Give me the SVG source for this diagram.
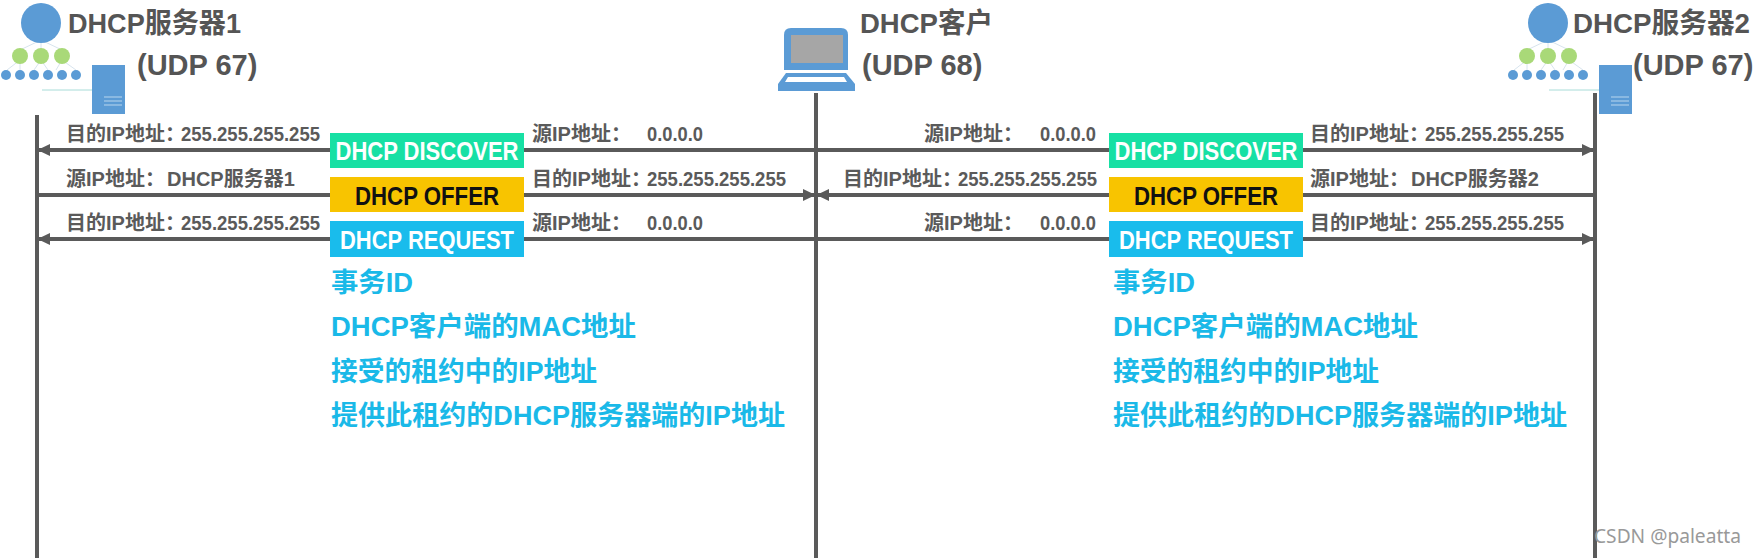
<svg xmlns="http://www.w3.org/2000/svg" width="1756" height="558" viewBox="0 0 1756 558">
<style>
text{font-family:"Liberation Sans","Noto Sans CJK SC",sans-serif;font-weight:700}
.h{font-size:28px;fill:#555}
.u{font-size:29px;fill:#555}
.s{font-size:20px;fill:#5a5a5a}
.b{font-size:26px;fill:#fff;text-anchor:middle}
.k{fill:#111}
.l{font-size:27px;fill:#1ab9e8}
.c{stroke:#5a5a5a;stroke-width:4;fill:none}
.t{stroke:#5a5a5a;stroke-width:4;fill:none}
.bl{fill:#5b9bd5}.gr{fill:#a9d978}
.w{stroke:#d8e4ee;stroke-width:1;fill:none}
</style>
<defs>
<marker id="a" markerWidth="3.2" markerHeight="3.2" refX="2.8" refY="1.6" orient="auto-start-reverse" markerUnits="strokeWidth"><path d="M0 .1L3.2 1.6L0 3.1z" fill="#5a5a5a"/></marker>
<g id="srv">
<path class="w" d="M41 40L20 50M41 40V50M41 40L62 50M20 60L7 70M20 60L20 70M41 60L34 70M41 60L48 70M62 60L56 70M62 60L76 70"/>
<path d="M42 90H92" stroke="#a8dcd8" stroke-width="1" fill="none"/>
<circle class="bl" cx="41" cy="23" r="20"/>
<circle class="gr" cx="20" cy="56" r="8"/><circle class="gr" cx="41" cy="56" r="8"/><circle class="gr" cx="62" cy="56" r="8"/>
<circle class="bl" cx="6" cy="75" r="5"/><circle class="bl" cx="20" cy="75" r="5"/><circle class="bl" cx="34" cy="75" r="5"/><circle class="bl" cx="48" cy="75" r="5"/><circle class="bl" cx="62" cy="75" r="5"/><circle class="bl" cx="76" cy="75" r="5"/>
<rect class="bl" x="92" y="65" width="33" height="49"/>
<path d="M104 97H122M104 101H122M104 105H122" stroke="#b9d6ee" stroke-width="1" fill="none"/>
</g>
</defs>
<rect width="1756" height="558" fill="#fff"/>
<g id="server1">
<use href="#srv"/>
<text class="h" x="68" y="33" textLength="173" lengthAdjust="spacingAndGlyphs">DHCP服务器1</text>
<text class="u" x="137" y="75">(UDP 67)</text>
</g>
<g id="client">
<path class="bl" d="M791 28H841Q848 28 848 35V70H784V35Q784 28 791 28Z"/>
<rect x="791" y="35" width="52" height="28" fill="#a6a6a6"/>
<path class="bl" d="M786 73H846L855 84V91H778V84Z"/>
<path d="M788 77H844L847 82H785Z" fill="#fff"/>
<text class="h" x="860" y="33" textLength="133" lengthAdjust="spacingAndGlyphs">DHCP客户</text>
<text class="u" x="862" y="75">(UDP 68)</text>
</g>
<g id="server2">
<use href="#srv" x="1507"/>
<text class="h" x="1573" y="33" textLength="177" lengthAdjust="spacingAndGlyphs">DHCP服务器2</text>
<text class="u" x="1633" y="75">(UDP 67)</text>
</g>
<g id="connectors">
<path class="t" d="M37 115V558"/>
<path class="t" d="M816 93V558"/>
<path class="t" d="M1595 93V558"/>
<path class="c" marker-start="url(#a)" d="M39 150H816"/>
<path class="c" marker-end="url(#a)" d="M37 195H814"/>
<path class="c" marker-start="url(#a)" d="M39 239H816"/>
<path class="c" marker-end="url(#a)" d="M816 150H1593"/>
<path class="c" marker-start="url(#a)" d="M818 195H1595"/>
<path class="c" marker-end="url(#a)" d="M816 239H1593"/>
</g>
<g id="msgs-left">
<rect x="330" y="133" width="194" height="35" fill="#17e0a4"/><text class="b" x="427" y="160" textLength="183" lengthAdjust="spacingAndGlyphs">DHCP DISCOVER</text>
<rect x="330" y="177" width="194" height="35" fill="#f8c400"/><text class="b k" x="427" y="205" textLength="144" lengthAdjust="spacingAndGlyphs">DHCP OFFER</text>
<rect x="330" y="221" width="194" height="36" fill="#19bcec"/><text class="b" x="427" y="249" textLength="174" lengthAdjust="spacingAndGlyphs">DHCP REQUEST</text>
</g>
<g id="msgs-right">
<rect x="1109" y="133" width="194" height="35" fill="#17e0a4"/><text class="b" x="1206" y="160" textLength="183" lengthAdjust="spacingAndGlyphs">DHCP DISCOVER</text>
<rect x="1109" y="177" width="194" height="35" fill="#f8c400"/><text class="b k" x="1206" y="205" textLength="144" lengthAdjust="spacingAndGlyphs">DHCP OFFER</text>
<rect x="1109" y="221" width="194" height="36" fill="#19bcec"/><text class="b" x="1206" y="249" textLength="174" lengthAdjust="spacingAndGlyphs">DHCP REQUEST</text>
</g>
<g id="labels">
<text class="s" x="66" y="141">目的IP地址：</text><text class="s" x="181" y="141" textLength="139" lengthAdjust="spacingAndGlyphs">255.255.255.255</text>
<text class="s" x="66" y="186">源IP地址：</text><text class="s" x="167" y="186">DHCP服务器1</text>
<text class="s" x="66" y="230">目的IP地址：</text><text class="s" x="181" y="230" textLength="139" lengthAdjust="spacingAndGlyphs">255.255.255.255</text>
<text class="s" x="532" y="141">源IP地址：</text><text class="s" x="647" y="141" textLength="56" lengthAdjust="spacingAndGlyphs">0.0.0.0</text>
<text class="s" x="532" y="186">目的IP地址：</text><text class="s" x="647" y="186" textLength="139" lengthAdjust="spacingAndGlyphs">255.255.255.255</text>
<text class="s" x="532" y="230">源IP地址：</text><text class="s" x="647" y="230" textLength="56" lengthAdjust="spacingAndGlyphs">0.0.0.0</text>
<text class="s" x="924" y="141">源IP地址：</text><text class="s" x="1040" y="141" textLength="56" lengthAdjust="spacingAndGlyphs">0.0.0.0</text>
<text class="s" x="843" y="186">目的IP地址：</text><text class="s" x="958" y="186" textLength="139" lengthAdjust="spacingAndGlyphs">255.255.255.255</text>
<text class="s" x="924" y="230">源IP地址：</text><text class="s" x="1040" y="230" textLength="56" lengthAdjust="spacingAndGlyphs">0.0.0.0</text>
<text class="s" x="1310" y="141">目的IP地址：</text><text class="s" x="1425" y="141" textLength="139" lengthAdjust="spacingAndGlyphs">255.255.255.255</text>
<text class="s" x="1310" y="186">源IP地址：</text><text class="s" x="1411" y="186">DHCP服务器2</text>
<text class="s" x="1310" y="230">目的IP地址：</text><text class="s" x="1425" y="230" textLength="139" lengthAdjust="spacingAndGlyphs">255.255.255.255</text>
</g>
<g id="notes-left">
<text class="l" x="331" y="292" textLength="82" lengthAdjust="spacingAndGlyphs">事务ID</text>
<text class="l" x="331" y="336" textLength="305" lengthAdjust="spacingAndGlyphs">DHCP客户端的MAC地址</text>
<text class="l" x="331" y="381" textLength="266" lengthAdjust="spacingAndGlyphs">接受的租约中的IP地址</text>
<text class="l" x="331" y="425" textLength="454" lengthAdjust="spacingAndGlyphs">提供此租约的DHCP服务器端的IP地址</text>
</g>
<g id="notes-right">
<text class="l" x="1113" y="292" textLength="82" lengthAdjust="spacingAndGlyphs">事务ID</text>
<text class="l" x="1113" y="336" textLength="305" lengthAdjust="spacingAndGlyphs">DHCP客户端的MAC地址</text>
<text class="l" x="1113" y="381" textLength="266" lengthAdjust="spacingAndGlyphs">接受的租约中的IP地址</text>
<text class="l" x="1113" y="425" textLength="454" lengthAdjust="spacingAndGlyphs">提供此租约的DHCP服务器端的IP地址</text>
</g>
<text x="1594" y="543" textLength="147" lengthAdjust="spacingAndGlyphs" style="font-family:'Noto Sans',sans-serif;font-weight:400;font-size:19px;fill:#999">CSDN @paleatta</text>
</svg>
